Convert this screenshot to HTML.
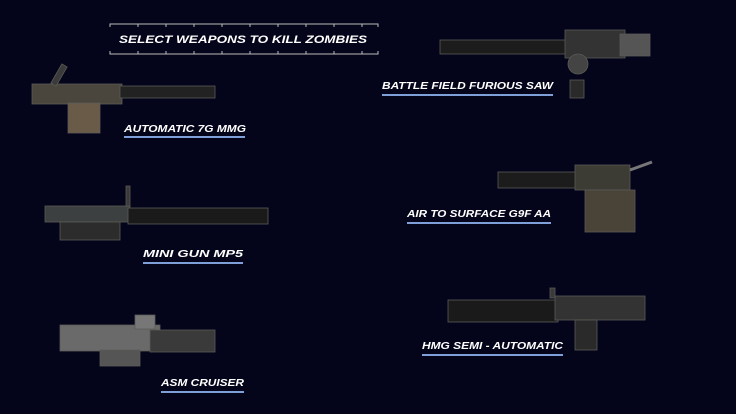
<!DOCTYPE html>
<html><head><style>
body{margin:0;width:736px;height:414px;background:#04051a;overflow:hidden;position:relative;font-family:"Liberation Sans",sans-serif}
</style></head><body>
<svg width="736" height="414" style="position:absolute;left:0;top:0">
<g stroke="#bbb" stroke-width="1" fill="none">
<path d="M110 27V24H378V27M110 51V54H378V51"/>
<path d="M138 24v3M166 24v3M194 24v3M222 24v3M250 24v3M278 24v3M306 24v3M334 24v3M362 24v3M138 54v-3M166 54v-3M194 54v-3M222 54v-3M250 54v-3M278 54v-3M306 54v-3M334 54v-3M362 54v-3"/>
</g>
<g fill="#fff" font-weight="bold" font-style="italic" font-family="Liberation Sans" lengthAdjust="spacingAndGlyphs">
<text x="119" y="43" font-size="11" textLength="248" lengthAdjust="spacingAndGlyphs">SELECT WEAPONS TO KILL ZOMBIES</text>
<text x="124" y="132" font-size="10.5" textLength="122" lengthAdjust="spacingAndGlyphs">AUTOMATIC 7G MMG</text>
<text x="382" y="89" font-size="10.5" textLength="171" lengthAdjust="spacingAndGlyphs">BATTLE FIELD FURIOUS SAW</text>
<text x="143" y="257" font-size="10.5" textLength="100" lengthAdjust="spacingAndGlyphs">MINI GUN MP5</text>
<text x="407" y="217" font-size="10.5" textLength="144" lengthAdjust="spacingAndGlyphs">AIR TO SURFACE G9F AA</text>
<text x="161" y="386" font-size="10.5" textLength="83" lengthAdjust="spacingAndGlyphs">ASM CRUISER</text>
<text x="422" y="349" font-size="10.5" textLength="141" lengthAdjust="spacingAndGlyphs">HMG SEMI - AUTOMATIC</text>
</g>
<g fill="#7f9fd8">
<rect x="124" y="136" width="121" height="2"/>
<rect x="382" y="94" width="171" height="2"/>
<rect x="143" y="262" width="100" height="2"/>
<rect x="407" y="222" width="144" height="2"/>
<rect x="161" y="391" width="83" height="2"/>
<rect x="422" y="354" width="141" height="2"/>
</g>
<g fill="#3a3a3a" stroke="#5a5a55" stroke-width=".8">
<rect x="32" y="84" width="90" height="20" fill="#4a463e"/><rect x="120" y="86" width="95" height="12" fill="#222"/><rect x="68" y="103" width="32" height="30" fill="#6a5a48"/><rect x="56" y="64" width="6" height="22" transform="rotate(30 59 75)"/>
<rect x="440" y="40" width="130" height="14" fill="#1c1c1c"/><rect x="565" y="30" width="60" height="28" fill="#333"/><rect x="620" y="34" width="30" height="22" fill="#555"/><circle cx="578" cy="64" r="10" fill="#444"/><rect x="570" y="80" width="14" height="18" fill="#2a2a2a"/>
<rect x="45" y="206" width="85" height="16" fill="#3c4040"/><rect x="128" y="208" width="140" height="16" fill="#1a1a1a"/><rect x="60" y="222" width="60" height="18" fill="#2c2c2c"/><rect x="126" y="186" width="4" height="20"/>
<rect x="498" y="172" width="80" height="16" fill="#1c1c1c"/><rect x="575" y="165" width="55" height="25" fill="#3c3c34"/><rect x="585" y="190" width="50" height="42" fill="#4a4438"/><path d="M630 170L652 162" stroke="#777" stroke-width="3"/>
<rect x="60" y="325" width="100" height="26" fill="#6a6a6a"/><rect x="150" y="330" width="65" height="22" fill="#3a3a3a"/><rect x="100" y="350" width="40" height="16" fill="#555"/><rect x="135" y="315" width="20" height="14" fill="#777"/>
<rect x="448" y="300" width="110" height="22" fill="#1a1a1a"/><rect x="555" y="296" width="90" height="24" fill="#333"/><rect x="575" y="320" width="22" height="30" fill="#2a2a2a"/><rect x="550" y="288" width="5" height="10"/>
</g>
</svg>
</body></html>
